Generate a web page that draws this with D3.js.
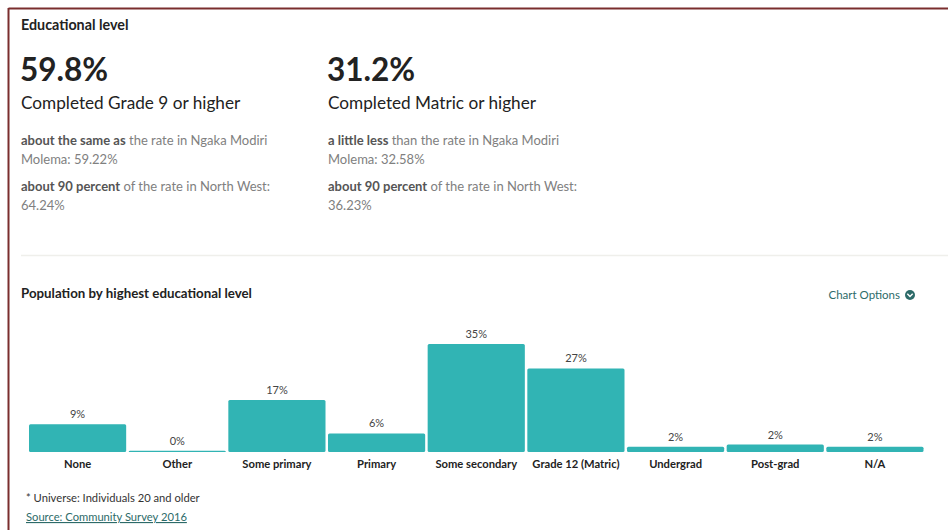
<!DOCTYPE html>
<html>
<head>
<meta charset="utf-8">
<script src="https://cdn.jsdelivr.net/npm/d3@7"></script>
<style>
  html, body { margin: 0; padding: 0; background: #fff; }
  svg { display: block; font-family: Lato, "Open Sans", sans-serif; }
</style>
</head>
<body>
<svg id="chart" width="948" height="530"></svg>
<script>
// Population by highest educational level (percent of individuals 20+)
const categories = ["None", "Other", "Some primary", "Primary", "Some secondary",
                    "Grade 12 (Matric)", "Undergrad", "Post-grad", "N/A"];
const values = [9.0, 0.4, 16.8, 6.0, 34.9, 27.0, 1.7, 2.4, 1.7];

// Headline statistics
const statValues = ["59.8%", "31.2%"];
const statNames = ["Completed Grade 9 or higher", "Completed Matric or higher"];
const statCompare = [
  [["about the same as", " the rate in Ngaka Modiri", "Molema: 59.22%"],
   ["about 90 percent", " of the rate in North West:", "64.24%"]],
  [["a little less", " than the rate in Ngaka Modiri", "Molema: 32.58%"],
   ["about 90 percent", " of the rate in North West:", "36.23%"]]
];

const svg = d3.select("#chart");
const W = 948, H = 530;

// Panel frame
const frame = "#7a2e2e";
svg.append("line").attr("x1", 8.5).attr("x2", W).attr("y1", 8.5).attr("y2", 8.5)
  .attr("stroke", frame).attr("stroke-width", 2);
svg.append("line").attr("x1", 8.5).attr("x2", 8.5).attr("y1", 8).attr("y2", H)
  .attr("stroke", frame).attr("stroke-width", 2);

// Section heading
svg.append("text").attr("x", 21).attr("y", 30)
  .attr("font-size", 14.3).attr("font-weight", 700).attr("fill", "#222")
  .text("Educational level");

// Headline stat columns
const colX = [20, 327];
statValues.forEach((v, i) => {
  const g = svg.append("g").attr("transform", `translate(${colX[i]},0)`);
  g.append("text").attr("x", 0).attr("y", 81)
    .attr("font-size", 31.5).attr("font-weight", 700).attr("fill", "#222").text(v);
  g.append("text").attr("x", 1).attr("y", 109)
    .attr("font-size", 17.2).attr("fill", "#222").text(statNames[i]);
  statCompare[i].forEach((c, j) => {
    const y0 = 145 + j * 46;
    const t = g.append("text").attr("x", 1).attr("y", y0)
      .attr("font-size", 13).attr("fill", "#808080");
    t.append("tspan").attr("font-weight", 700).attr("fill", "#555").text(c[0]);
    t.append("tspan").text(c[1]);
    g.append("text").attr("x", 1).attr("y", y0 + 19)
      .attr("font-size", 13).attr("fill", "#808080").text(c[2]);
  });
});

// Divider
svg.append("line").attr("x1", 21).attr("x2", W).attr("y1", 255.5).attr("y2", 255.5)
  .attr("stroke", "#efefeb").attr("stroke-width", 1.5);

// Chart heading and options control
svg.append("text").attr("x", 21).attr("y", 298)
  .attr("font-size", 13.3).attr("font-weight", 700).attr("fill", "#222")
  .text("Population by highest educational level");
const opt = svg.append("g").attr("fill", "#2d6b69");
opt.append("text").attr("x", 900).attr("y", 299).attr("text-anchor", "end")
  .attr("font-size", 11.5).text("Chart Options");
opt.append("circle").attr("cx", 910).attr("cy", 295).attr("r", 5);
opt.append("path").attr("d", "M907.3,293.8 L910,296.5 L912.7,293.8")
  .attr("fill", "none").attr("stroke", "#fff").attr("stroke-width", 1.5);

// Scales
const baseY = 452;
const x = d3.scaleBand().domain(categories).range([29, 923.5]).paddingInner(0.025);
const y = d3.scaleLinear().domain([0, d3.max(values)]).range([baseY, 344]);
const data = categories.map((c, i) => ({ c, v: values[i] }));

// Bars
svg.append("g").selectAll("rect").data(data).join("rect")
  .attr("x", d => x(d.c))
  .attr("y", d => y(d.v))
  .attr("width", x.bandwidth())
  .attr("height", d => baseY - y(d.v))
  .attr("rx", 1.5)
  .attr("fill", "#31b4b4");

// Value labels
svg.append("g").selectAll("text").data(data).join("text")
  .attr("x", d => x(d.c) + x.bandwidth() / 2)
  .attr("y", d => y(d.v) - 6)
  .attr("text-anchor", "middle")
  .attr("font-size", 11).attr("fill", "#444")
  .text(d => d3.format(".0f")(d.v) + "%");

// Category axis
const axis = svg.append("g").attr("transform", `translate(0,${baseY})`)
  .call(d3.axisBottom(x).tickSize(0).tickPadding(0));
axis.select(".domain").remove();
axis.selectAll("text")
  .attr("dy", null).attr("y", 16)
  .attr("font-family", "Lato, sans-serif")
  .attr("font-size", 11.2).attr("font-weight", 700).attr("fill", "#222");

// Footnotes
svg.append("text").attr("x", 26).attr("y", 502)
  .attr("font-size", 11.2).attr("fill", "#333")
  .text("* Universe: Individuals 20 and older");
svg.append("text").attr("x", 26).attr("y", 521)
  .attr("font-size", 11.2).attr("fill", "#2d6b69")
  .attr("text-decoration", "underline")
  .text("Source: Community Survey 2016");
</script>
</body>
</html>
